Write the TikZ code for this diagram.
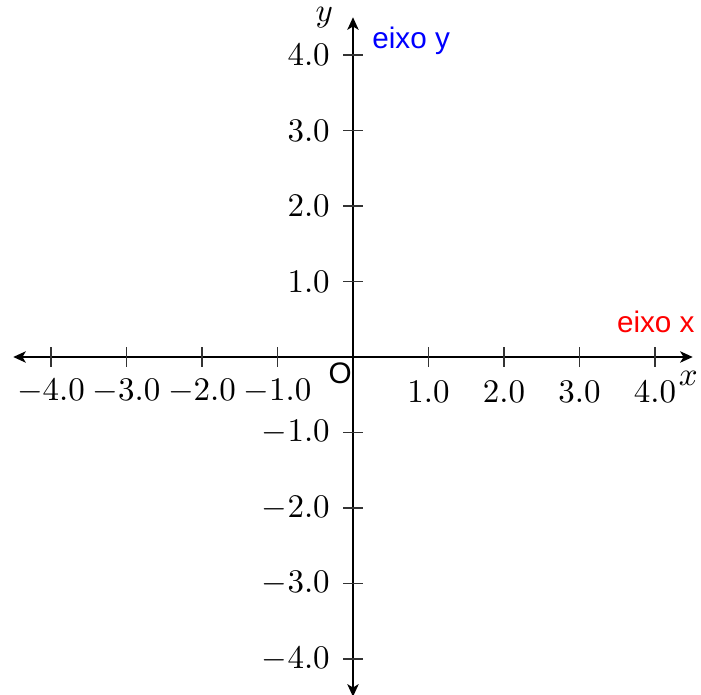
\documentclass[tikz,border=0pt]{standalone}
\usepackage{amsmath,amssymb}
\usepackage{fontspec}
\setsansfont{Liberation Sans}
\usepackage{tikz}
\usetikzlibrary{arrows.meta,positioning,calc}

\tikzset{
    axisline/.style={line width=0.8pt, {Stealth[length=3.8pt,width=3.4pt,inset=1pt]}-{Stealth[length=3.8pt,width=3.4pt,inset=1pt]}},
    tickmark/.style={thin, black!80},
    xticklab/.style={anchor=center, inner sep=0pt},
    yticklab/.style={anchor=east, inner sep=0pt},
    axisname/.style={font=\sffamily\small}
}

\begin{document}
\begin{tikzpicture}[x=0.805cm, y=0.805cm]
    \useasboundingbox (-4.675, -4.464) rectangle (4.609, 4.728);

    % Axes
    \coordinate (xmin) at (-4.5, 0);
    \coordinate (xmax) at (4.5, 0);
    \coordinate (ymin) at (0, -4.5);
    \coordinate (ymax) at (0, 4.5);
    \draw[axisline] (xmin) -- (xmax);
    \draw[axisline] (ymin) -- (ymax);

    % Ticks on x
    \draw[tickmark] (-4, -0.13) -- (-4, 0.13);
    \draw[tickmark] (-3, -0.13) -- (-3, 0.13);
    \draw[tickmark] (-2, -0.13) -- (-2, 0.13);
    \draw[tickmark] (-1, -0.13) -- (-1, 0.13);
    \draw[tickmark] (1, -0.13) -- (1, 0.13);
    \draw[tickmark] (2, -0.13) -- (2, 0.13);
    \draw[tickmark] (3, -0.13) -- (3, 0.13);
    \draw[tickmark] (4, -0.13) -- (4, 0.13);

    % Ticks on y
    \draw[tickmark] (-0.13, -4) -- (0.13, -4);
    \draw[tickmark] (-0.13, -3) -- (0.13, -3);
    \draw[tickmark] (-0.13, -2) -- (0.13, -2);
    \draw[tickmark] (-0.13, -1) -- (0.13, -1);
    \draw[tickmark] (-0.13, 1) -- (0.13, 1);
    \draw[tickmark] (-0.13, 2) -- (0.13, 2);
    \draw[tickmark] (-0.13, 3) -- (0.13, 3);
    \draw[tickmark] (-0.13, 4) -- (0.13, 4);

    % Tick labels on x
    \node[xticklab] (xm4) at (-4, -0.46) {$-4.0$};
    \node[xticklab] (xm3) at (-3, -0.46) {$-3.0$};
    \node[xticklab] (xm2) at (-2, -0.46) {$-2.0$};
    \node[xticklab] (xm1) at (-1, -0.46) {$-1.0$};
    \node[xticklab] (xp1) at (1, -0.46) {$1.0$};
    \node[xticklab] (xp2) at (2, -0.46) {$2.0$};
    \node[xticklab] (xp3) at (3, -0.46) {$3.0$};
    \node[xticklab] (xp4) at (4, -0.46) {$4.0$};

    % Tick labels on y
    \node[yticklab] (ym4) at (-0.3, -4) {$-4.0$};
    \node[yticklab] (ym3) at (-0.3, -3) {$-3.0$};
    \node[yticklab] (ym2) at (-0.3, -2) {$-2.0$};
    \node[yticklab] (ym1) at (-0.3, -1) {$-1.0$};
    \node[yticklab] (yp1) at (-0.3, 1) {$1.0$};
    \node[yticklab] (yp2) at (-0.3, 2) {$2.0$};
    \node[yticklab] (yp3) at (-0.3, 3) {$3.0$};
    \node[yticklab] (yp4) at (-0.3, 4) {$4.0$};

    % Axis names
    \node[inner sep=1pt] (xname) at (4.44, -0.28) {$x$};
    \node[inner sep=1pt] (yname) at (-0.38, 4.5) {$y$};
    \node[axisname, text=red] (eixox) at (4.01, 0.46) {eixo x};
    \node[axisname, text=blue] (eixoy) at (0.77, 4.19) {eixo y};
    \node[axisname] (orig) at (-0.17, -0.21) {O};
\end{tikzpicture}
\end{document}
